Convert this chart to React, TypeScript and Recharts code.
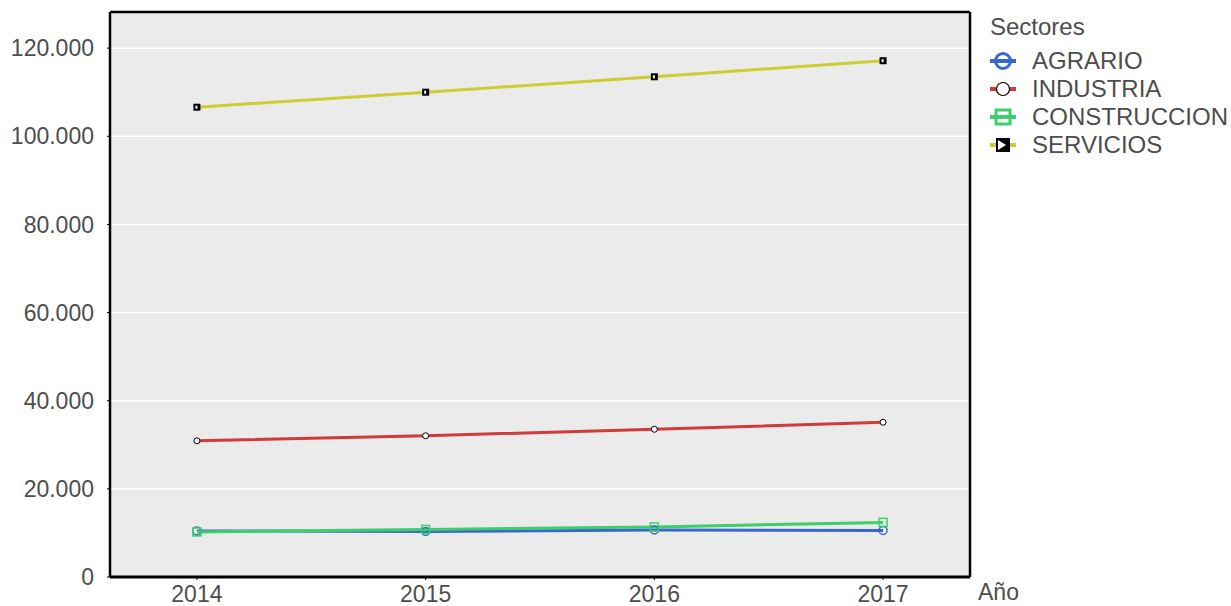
import { LineChart, Line, XAxis, YAxis, CartesianGrid, ReferenceLine } from 'recharts';

const years = [2014, 2015, 2016, 2017];
const agrario = [10450, 10340, 10680, 10570];
const industria = [30900, 32050, 33520, 35110];
const construccion = [10230, 10800, 11360, 12390];
const servicios = [106600, 110000, 113500, 117150];
const yTicks = [0, 20000, 40000, 60000, 80000, 100000, 120000];

const data = years.map((year, i) => ({
  year,
  AGRARIO: agrario[i],
  INDUSTRIA: industria[i],
  CONSTRUCCION: construccion[i],
  SERVICIOS: servicios[i],
}));

const X_DOMAIN: [number, number] = [2013.62, 2017.38];
const Y_MAX = 128200;
const FONT = '"Liberation Sans", Arial, sans-serif';
const TEXT = '#4d4d4d';

const fmt = (v: number) => String(v).replace(/\B(?=(\d{3})+(?!\d))/g, '.');

type DotProps = { cx?: number; cy?: number; index?: number };

const CircleDot = ({ cx, cy, index }: DotProps) =>
  cx == null ? null : <circle key={index} cx={cx} cy={cy} r={4} fill="none" stroke="#3a66d0" strokeWidth={1.5} />;

const WhiteDot = ({ cx, cy, index }: DotProps) =>
  cx == null ? null : <circle key={index} cx={cx} cy={cy} r={3} fill="#fff" stroke="#000" strokeWidth={1} />;

const SquareDot = ({ cx, cy, index }: DotProps) =>
  cx == null ? null : (
    <rect key={index} x={cx! - 4} y={cy! - 4} width={8} height={8} fill="none" stroke="#3ccf6a" strokeWidth={1.5} />
  );

const BlackDot = ({ cx, cy, index }: DotProps) =>
  cx == null ? null : (
    <g key={index}>
      <rect x={cx! - 3.5} y={cy! - 3.5} width={7} height={7} fill="#000" />
      <rect x={cx! - 1.5} y={cy! - 1.5} width={2} height={3} fill="#fff" />
    </g>
  );

const series = [
  { key: 'AGRARIO', color: '#3a66d0', dot: CircleDot },
  { key: 'INDUSTRIA', color: '#d03a3a', dot: WhiteDot },
  { key: 'CONSTRUCCION', color: '#3ccf6a', dot: SquareDot },
  { key: 'SERVICIOS', color: '#cccc33', dot: BlackDot },
];

function LegendMark({ k, color }: { k: string; color: string }) {
  return (
    <svg width={30} height={24} style={{ display: 'block' }}>
      <line x1={2} y1={12} x2={28} y2={12} stroke={color} strokeWidth={4} />
      {k === 'AGRARIO' && <circle cx={15} cy={12} r={7.5} fill="none" stroke={color} strokeWidth={3} />}
      {k === 'INDUSTRIA' && <circle cx={15} cy={12} r={6.5} fill="#fff" stroke="#000" strokeWidth={1.2} />}
      {k === 'CONSTRUCCION' && (
        <rect x={8} y={5} width={14} height={14} fill="none" stroke={color} strokeWidth={3} />
      )}
      {k === 'SERVICIOS' && (
        <g>
          <rect x={8} y={5} width={14} height={14} fill="#000" />
          <polygon points="10,7 18,12 10,17" fill="#fff" />
        </g>
      )}
    </svg>
  );
}

export default function App() {
  return (
    <div style={{ position: 'absolute', left: 0, top: 0, width: 1231, height: 606, background: '#fff', fontFamily: FONT }}>
      <LineChart width={1231} height={606} data={data} margin={{ top: 12, right: 261, left: 10, bottom: 0 }}>
        <CartesianGrid vertical={false} stroke="#ffffff" strokeWidth={1.5} fill="#ebebeb" />
        <XAxis
          dataKey="year"
          type="number"
          domain={X_DOMAIN}
          ticks={years}
          allowDataOverflow
          height={29}
          tickSize={3}
          tickMargin={6}
          tickLine={{ stroke: '#000' }}
          axisLine={{ stroke: '#000', strokeWidth: 3 }}
          tick={{ fill: TEXT, fontSize: 23, fontFamily: FONT }}
          label={{ value: 'Año', position: 'right', offset: 8, dy: 0, fill: TEXT, fontSize: 23, fontFamily: FONT }}
        />
        <YAxis
          domain={[0, Y_MAX]}
          ticks={yTicks}
          allowDataOverflow
          width={100}
          tickSize={3}
          tickMargin={13}
          tickFormatter={fmt}
          tickLine={{ stroke: '#000' }}
          axisLine={{ stroke: '#000', strokeWidth: 2.5 }}
          tick={{ fill: TEXT, fontSize: 23, fontFamily: FONT }}
        />
        <ReferenceLine y={Y_MAX} stroke="#000" strokeWidth={2.5} ifOverflow="visible" />
        <ReferenceLine x={X_DOMAIN[1]} stroke="#000" strokeWidth={2.5} ifOverflow="visible" />
        {series.map((s) => (
          <Line
            key={s.key}
            dataKey={s.key}
            type="linear"
            stroke={s.color}
            strokeWidth={3}
            dot={s.dot}
            activeDot={false}
            isAnimationActive={false}
          />
        ))}
      </LineChart>
      <div style={{ position: 'absolute', left: 988, top: 13, color: TEXT, fontSize: 24, lineHeight: '28px' }}>
        <div style={{ marginBottom: 6, marginLeft: 2 }}>Sectores</div>
        {series.map((s) => (
          <div key={s.key} style={{ display: 'flex', alignItems: 'center', height: 28 }}>
            <LegendMark k={s.key} color={s.color} />
            <span style={{ marginLeft: 14 }}>{s.key}</span>
          </div>
        ))}
      </div>
    </div>
  );
}
